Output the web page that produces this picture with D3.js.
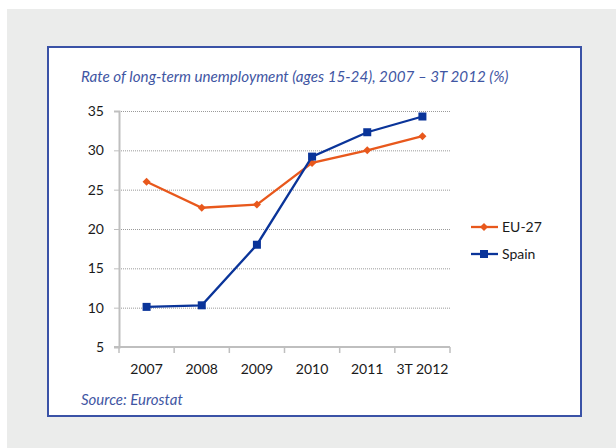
<!DOCTYPE html>
<html>
<head>
<meta charset="utf-8">
<script src="https://cdn.jsdelivr.net/npm/d3@7"></script>
<style>
  html, body { margin: 0; padding: 0; background: #ffffff; }
  svg { display: block; }
  text { font-family: Lato, "Open Sans", "Liberation Sans", sans-serif; }
</style>
</head>
<body>
<script>
// Long-term unemployment rate, ages 15-24 (%)
const categories = ["2007", "2008", "2009", "2010", "2011", "3T 2012"];
const eu27 = [26.0, 22.7, 23.1, 28.4, 30.0, 31.8];
const spain = [10.1, 10.3, 18.0, 29.2, 32.3, 34.3];
const yTicks = [5, 10, 15, 20, 25, 30, 35];
const seriesNames = ["EU-27", "Spain"];

const W = 616, H = 448;
const svg = d3.select("body").append("svg").attr("width", W).attr("height", H);

// page background and framed panel
svg.append("rect").attr("x", 7).attr("y", 9).attr("width", W - 7).attr("height", H - 9).attr("fill", "#ebeceb");
svg.append("rect").attr("x", 48).attr("y", 47).attr("width", 533).attr("height", 369)
  .attr("fill", "#ffffff").attr("stroke", "#3a52a6").attr("stroke-width", 2);

const plot = { left: 119, right: 450, top: 111, bottom: 347 };

const x = d3.scaleBand().domain(categories).range([plot.left, plot.right]);
const y = d3.scaleLinear().domain([5, 35]).range([plot.bottom, plot.top]);

// title
svg.append("text").attr("x", 81).attr("y", 82)
  .attr("font-size", 15.2).attr("font-style", "italic").attr("fill", "#3f56a3")
  .text("Rate of long-term unemployment (ages 15-24), 2007 – 3T 2012 (%)");

// gridlines
svg.append("g").selectAll("line").data(yTicks.filter(d => d > 5)).join("line")
  .attr("x1", plot.left).attr("x2", plot.right)
  .attr("y1", d => y(d) + 0.5).attr("y2", d => y(d) + 0.5)
  .attr("stroke", "#9a9a9a").attr("stroke-width", 1).attr("stroke-dasharray", "1,1");

// y axis
const yAxis = svg.append("g").attr("transform", `translate(${plot.left},0)`)
  .call(d3.axisLeft(y).tickValues(yTicks).tickSize(5).tickPadding(10).tickFormat(d3.format("d")));
yAxis.select(".domain").attr("stroke", "#bfbfbf").attr("stroke-width", 2);
yAxis.selectAll(".tick line").attr("stroke", "#bfbfbf").attr("stroke-width", 1);
yAxis.selectAll(".tick text").attr("font-size", 14).attr("fill", "#1a1a1a")
  .attr("font-family", "Lato, 'Open Sans', sans-serif");

// x axis with ticks on category boundaries
const xAxisG = svg.append("g").attr("transform", `translate(0,${plot.bottom})`);
xAxisG.append("line").attr("x1", plot.left - 5).attr("x2", plot.right)
  .attr("stroke", "#bfbfbf").attr("stroke-width", 2);
const bounds = categories.map(c => x(c)).concat([x.range()[1]]);
xAxisG.selectAll("line.tk").data(bounds).join("line").attr("class", "tk")
  .attr("x1", d => d).attr("x2", d => d).attr("y1", 0).attr("y2", 6)
  .attr("stroke", "#bfbfbf").attr("stroke-width", 1.5);
xAxisG.selectAll("text").data(categories).join("text")
  .attr("x", d => x(d) + x.bandwidth() / 2).attr("y", 27)
  .attr("text-anchor", "middle").attr("font-size", 14).attr("fill", "#1a1a1a")
  .text(d => d);

const cx = c => x(c) + x.bandwidth() / 2;
const line = d3.line().x((d, i) => cx(categories[i])).y(d => y(d));

const orange = "#e8581c", blue = "#0a3499";

// diamond marker path centred on the origin
const diamondPath = r => `M0,${-r}L${r},0L0,${r}L${-r},0Z`;

// EU-27 series
svg.append("path").datum(eu27).attr("d", line).attr("fill", "none")
  .attr("stroke", orange).attr("stroke-width", 2.3);
svg.append("g").selectAll("path").data(eu27).join("path")
  .attr("d", diamondPath(4)).attr("fill", orange)
  .attr("transform", (d, i) => `translate(${cx(categories[i])},${y(d)})`);

// Spain series
svg.append("path").datum(spain).attr("d", line).attr("fill", "none")
  .attr("stroke", blue).attr("stroke-width", 2.3);
svg.append("g").selectAll("rect").data(spain).join("rect")
  .attr("x", (d, i) => cx(categories[i]) - 4).attr("y", d => y(d) - 4)
  .attr("width", 8).attr("height", 8).attr("fill", blue);

// legend
const legend = svg.append("g");
const legendItems = [
  { name: seriesNames[0], color: orange, shape: "diamond", y: 227 },
  { name: seriesNames[1], color: blue, shape: "square", y: 254 }
];
legendItems.forEach(item => {
  legend.append("line").attr("x1", 471).attr("x2", 498).attr("y1", item.y).attr("y2", item.y)
    .attr("stroke", item.color).attr("stroke-width", 2.3);
  if (item.shape === "diamond") {
    legend.append("path").attr("d", diamondPath(4)).attr("fill", item.color)
      .attr("transform", `translate(484,${item.y})`);
  } else {
    legend.append("rect").attr("x", 480).attr("y", item.y - 4).attr("width", 8).attr("height", 8)
      .attr("fill", item.color);
  }
  legend.append("text").attr("x", 502).attr("y", item.y + 5)
    .attr("font-size", 14).attr("fill", "#1a1a1a").text(item.name);
});

// source note
svg.append("text").attr("x", 81).attr("y", 405)
  .attr("font-size", 15).attr("font-style", "italic").attr("fill", "#3f56a3")
  .text("Source: Eurostat");
</script>
</body>
</html>
